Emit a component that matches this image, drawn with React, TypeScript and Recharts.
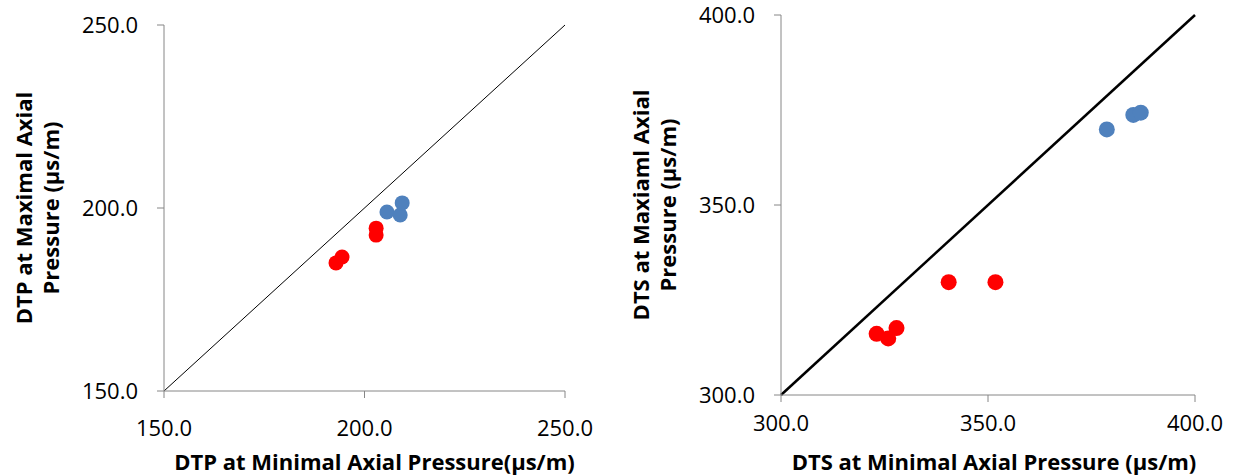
import { ReferenceLine, Scatter, ScatterChart, XAxis, YAxis } from "recharts";

// DTP panel (left)
const dtpBlue = [
  { x: 205.6, y: 198.9 },
  { x: 208.9, y: 198.1 },
  { x: 209.4, y: 201.4 },
];
const dtpRed = [
  { x: 202.9, y: 194.5 },
  { x: 202.9, y: 192.6 },
  { x: 192.9, y: 185.0 },
  { x: 194.4, y: 186.6 },
];
const dtpTicks = [150, 200, 250];

// DTS panel (right)
const dtsBlue = [
  { x: 378.7, y: 369.9 },
  { x: 385.1, y: 373.7 },
  { x: 386.9, y: 374.3 },
];
const dtsRed = [
  { x: 340.5, y: 329.7 },
  { x: 351.8, y: 329.7 },
  { x: 323.1, y: 316.1 },
  { x: 325.9, y: 314.9 },
  { x: 327.9, y: 317.6 },
];
const dtsTicks = [300, 350, 400];

const FONT = "'Open Sans', sans-serif";
const AXIS = "#868686";
const BLUE = "#4F81BD";
const RED = "#FF0000";
const YW = 60;
const XH = 60;
const TITLE_SIZE = 22;

const dot = (r: number) => (props: any) => <circle cx={props.cx} cy={props.cy} r={r} fill={props.fill} />;

const fmt = (v: number) => v.toFixed(1);

function XTitle({ viewBox, text, shift }: any) {
  const cx = viewBox.x + viewBox.width / 2 + shift;
  return (
    <text x={cx} y={470} textAnchor="middle" fontFamily={FONT} fontWeight="bold" fontSize={TITLE_SIZE} fill="#000">
      {text}
    </text>
  );
}

function YTitle({ viewBox, lines }: any) {
  const cy = viewBox.y + viewBox.height / 2;
  const ax = viewBox.x + viewBox.width;
  return (
    <g>
      {lines.map((l: string, i: number) => (
        <text
          key={i}
          transform={`translate(${ax - 132 + i * 27},${cy}) rotate(-90)`}
          textAnchor="middle"
          fontFamily={FONT}
          fontWeight="bold"
          fontSize={TITLE_SIZE}
          fill="#000"
        >
          {l}
        </text>
      ))}
    </g>
  );
}

function Panel(props: {
  width: number;
  margin: { top: number; right: number; bottom: number; left: number };
  ticks: number[];
  blue: { x: number; y: number }[];
  red: { x: number; y: number }[];
  xTitle: string;
  yLines: string[];
  lineWidth: number;
  xTickMargin: number;
  r: number;
  shift: number;
}) {
  const { ticks } = props;
  const lo = ticks[0];
  const hi = ticks[ticks.length - 1];
  const tickStyle = { fontFamily: FONT, fontSize: 22, fill: "#000" };
  const m = props.margin;
  return (
    <ScatterChart
      width={props.width}
      height={476}
      margin={{ top: m.top, right: m.right, bottom: m.bottom - XH, left: m.left - YW }}
    >
      <XAxis
        type="number"
        dataKey="x"
        domain={[lo, hi]}
        ticks={ticks}
        tickFormatter={fmt}
        height={XH}
        stroke={AXIS}
        tickSize={7}
        tickMargin={props.xTickMargin}
        tick={tickStyle}
        allowDataOverflow
        label={{ content: (p: any) => <XTitle viewBox={p.viewBox} text={props.xTitle} shift={props.shift} /> }}
      />
      <YAxis
        type="number"
        dataKey="y"
        domain={[lo, hi]}
        ticks={ticks}
        tickFormatter={fmt}
        width={YW}
        stroke={AXIS}
        tickSize={7}
        tickMargin={19}
        tick={tickStyle}
        allowDataOverflow
        label={{ content: (p: any) => <YTitle viewBox={p.viewBox} lines={props.yLines} /> }}
      />
      <ReferenceLine
        segment={[
          { x: lo, y: lo },
          { x: hi, y: hi },
        ]}
        stroke="#000"
        strokeWidth={props.lineWidth}
        ifOverflow="visible"
      />
      <Scatter data={props.blue} fill={BLUE} shape={dot(props.r)} isAnimationActive={false} />
      <Scatter data={props.red} fill={RED} shape={dot(props.r)} isAnimationActive={false} />
    </ScatterChart>
  );
}

export default function App() {
  return (
    <div style={{ position: "absolute", left: 0, top: 0, width: 1233, height: 476, background: "#fff" }}>
      <div style={{ position: "absolute", left: 0, top: 0 }}>
        <Panel
          width={610}
          margin={{ top: 25, right: 45, bottom: 85, left: 164 }}
          ticks={dtpTicks}
          blue={dtpBlue}
          red={dtpRed}
          xTitle="DTP at Minimal Axial Pressure(μs/m)"
          yLines={["DTP at Maximal Axial", "Pressure (μs/m)"]}
          lineWidth={1}
          xTickMargin={22}
          r={7.5}
          shift={10}
        />
      </div>
      <div style={{ position: "absolute", left: 610, top: 0 }}>
        <Panel
          width={623}
          margin={{ top: 15, right: 38, bottom: 81, left: 171 }}
          ticks={dtsTicks}
          blue={dtsBlue}
          red={dtsRed}
          xTitle="DTS at Minimal Axial Pressure (μs/m)"
          yLines={["DTS at Maxiaml Axial", "Pressure (μs/m)"]}
          lineWidth={2.5}
          xTickMargin={13}
          r={8}
          shift={6}
        />
      </div>
    </div>
  );
}
